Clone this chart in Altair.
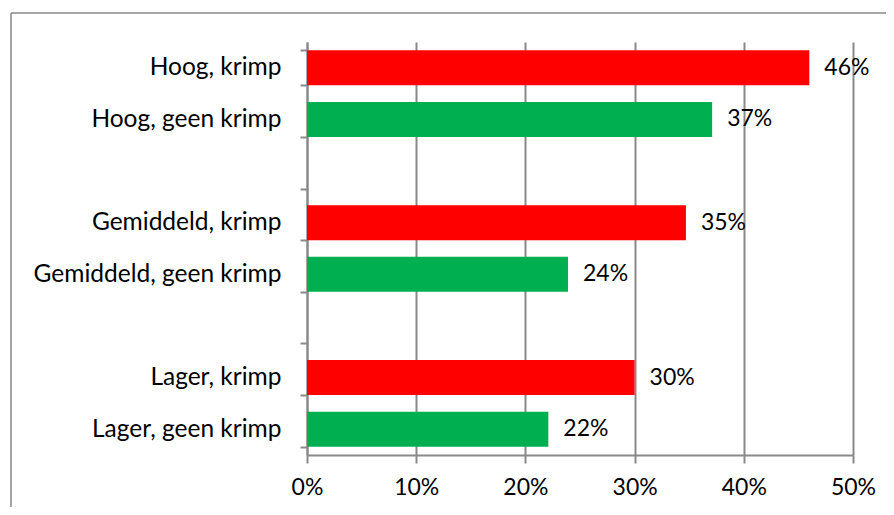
import altair as alt
import pandas as pd

categories = ["Hoog, krimp", "Hoog, geen krimp", "Gemiddeld, krimp",
              "Gemiddeld, geen krimp", "Lager, krimp", "Lager, geen krimp"]
groups = ["krimp", "geen krimp", "krimp", "geen krimp", "krimp", "geen krimp"]
values = [0.46, 0.371, 0.347, 0.239, 0.30, 0.221]
axis_order = ["Hoog, krimp", "Hoog, geen krimp", " ",
              "Gemiddeld, krimp", "Gemiddeld, geen krimp", "  ",
              "Lager, krimp", "Lager, geen krimp"]
x_ticks = [0, 0.1, 0.2, 0.3, 0.4, 0.5]

df = pd.DataFrame({"category": categories, "group": groups, "value": values})

FONT = "Lato"
FS = 23
FS_Y = 24.5
GRAY = "#898989"

y_enc = alt.Y("category:N",
              scale=alt.Scale(domain=axis_order, paddingInner=0.32, paddingOuter=0.16),
              axis=alt.Axis(title=None, tickBand="extent", grid=False,
                            domainColor=GRAY, domainWidth=2, tickColor=GRAY,
                            tickWidth=2, tickSize=7, labelPadding=19, labelLimit=400,
                            labelFont=FONT, labelFontSize=FS_Y, labelColor="black"))
x_enc = alt.X("value:Q",
              scale=alt.Scale(domain=[0, 0.5], nice=False),
              axis=alt.Axis(title=None, values=x_ticks, format=".0%", grid=True,
                            gridColor=GRAY, gridWidth=2, domainColor=GRAY,
                            domainWidth=2, tickColor=GRAY, tickWidth=2, tickSize=8,
                            labelPadding=13, labelFlush=False, labelOverlap=False,
                            labelFont=FONT, labelFontSize=FS, labelColor="black"))

base = alt.Chart(df)
bars = base.mark_bar().encode(
    x=x_enc, y=y_enc,
    color=alt.Color("group:N",
                    scale=alt.Scale(domain=["krimp", "geen krimp"],
                                    range=["#FF0000", "#00B050"]),
                    legend=None))
labels = base.mark_text(align="left", baseline="middle", dx=15,
                        font=FONT, fontSize=FS, color="black").encode(
    x="value:Q", y=alt.Y("category:N"),
    text=alt.Text("value:Q", format=".0%"))

frame_df = pd.DataFrame({"k": [0]})
frame_left = alt.Chart(frame_df).mark_rule(color=GRAY, strokeWidth=1.5).encode(
    x=alt.value(-296), y=alt.value(-29), y2=alt.value(600))
frame_top = alt.Chart(frame_df).mark_rule(color=GRAY, strokeWidth=1.5).encode(
    x=alt.value(-296), x2=alt.value(700), y=alt.value(-29))

chart = alt.layer(bars, labels, frame_left, frame_top).properties(
    width=546, height=413,
    autosize=alt.AutoSizeParams(type="none"),
    padding={"left": 299, "top": 34, "right": 33, "bottom": 52},
).configure_view(strokeWidth=0)

chart.save("out.html", embed_options={"renderer": "svg", "actions": False})
